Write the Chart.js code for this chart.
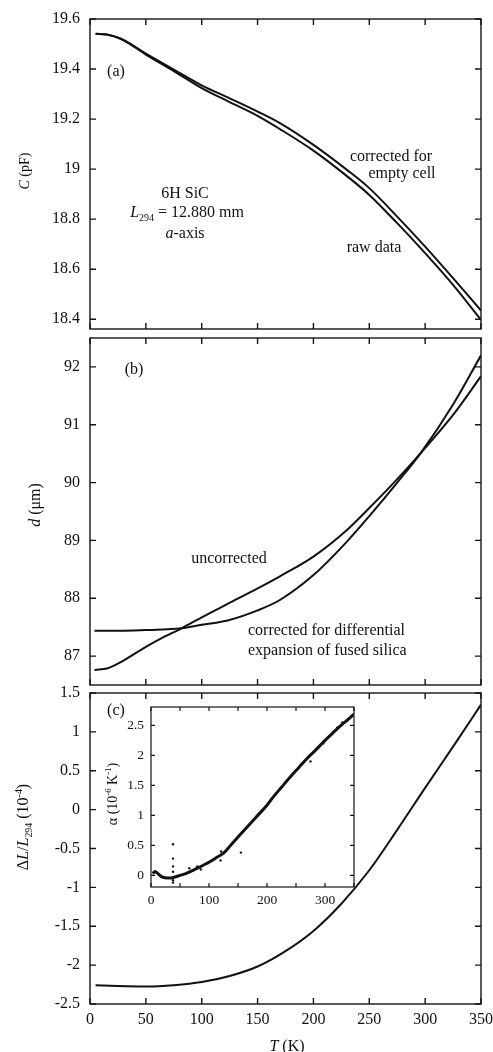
<!DOCTYPE html>
<html>
<head>
<meta charset="utf-8">
<script src="https://cdn.jsdelivr.net/npm/chart.js@4.4.0/dist/chart.umd.min.js"></script>
<style>
  body { margin: 0; background: #fff; }
  #wrap { position: relative; width: 493px; height: 1052px; overflow: hidden;
          font-family: "Liberation Serif", "Times New Roman", serif; color: #111; }
  canvas { position: absolute; }
  .t { position: absolute; white-space: nowrap; font-size: 16px; line-height: 1;
       transform: translate(-50%, -50%); }
  .l { position: absolute; white-space: nowrap; font-size: 16px; line-height: 1;
       transform: translate(0, -50%); }
  .rot { transform: translate(-50%, -50%) rotate(-90deg); }
  sub, sup { font-size: 0.62em; line-height: 0; }
</style>
</head>
<body>
<div id="wrap">
  <canvas id="pa" width="493" height="340" style="left:0;top:0"></canvas>
  <canvas id="pb" width="493" height="365" style="left:0;top:330px"></canvas>
  <canvas id="pc" width="493" height="372" style="left:0;top:680px"></canvas>
  <canvas id="inset" width="265" height="210" style="left:100px;top:700px"></canvas>

  <div class="t" style="left:116px;top:71px">(a)</div>
  <div class="t" style="left:185px;top:193px">6H SiC</div>
  <div class="t" style="left:187px;top:212px"><i>L</i><sub>294</sub> = 12.880 mm</div>
  <div class="t" style="left:185px;top:233px"><i>a</i>-axis</div>
  <div class="t" style="left:391px;top:156px">corrected for</div>
  <div class="t" style="left:402px;top:173px">empty cell</div>
  <div class="t" style="left:374px;top:247px">raw data</div>
  <div class="t rot" style="left:25px;top:171px;font-size:14px"><i>C</i> (pF)</div>

  <div class="t" style="left:134px;top:369px">(b)</div>
  <div class="t" style="left:229px;top:558px">uncorrected</div>
  <div class="l" style="left:248px;top:630px">corrected for differential</div>
  <div class="l" style="left:248px;top:650px">expansion of fused silica</div>
  <div class="t rot" style="left:35px;top:505px"><i>d</i> (μm)</div>

  <div class="t" style="left:116px;top:710px">(c)</div>
  <div class="t rot" style="left:23px;top:827px">Δ<i>L</i>/<i>L</i><sub>294</sub> (10<sup>-4</sup>)</div>
  <div class="t rot" style="left:113px;top:794px;font-size:14px">α (10<sup>-6</sup> K<sup>-1</sup>)</div>
  <div class="t" style="left:287px;top:1046px"><i>T</i> (K)</div>
</div>

<script>
// panel (a): capacitance
const tempA = [5, 15, 28, 50, 75, 100, 125, 150, 170, 200, 230, 250, 275, 300, 325, 350];
const capCorrected = [19.541, 19.538, 19.52, 19.462, 19.398, 19.335, 19.283, 19.23, 19.184, 19.097, 18.997, 18.924, 18.81, 18.69, 18.564, 18.435];
const capRaw = [19.541, 19.538, 19.52, 19.458, 19.392, 19.324, 19.268, 19.213, 19.16, 19.074, 18.972, 18.897, 18.784, 18.664, 18.537, 18.397];
const ticksA = [18.4, 18.6, 18.8, 19, 19.2, 19.4, 19.6];

// panel (b): gap
const tempB = [4, 16, 28, 50, 65, 82, 100, 124, 150, 170, 200, 230, 250, 275, 296, 325, 350];
const gapUncorrected = [86.76, 86.79, 86.9, 87.16, 87.32, 87.48, 87.67, 87.91, 88.17, 88.38, 88.72, 89.18, 89.56, 90.06, 90.51, 91.17, 91.84];
const gapCorrected = [87.44, 87.44, 87.44, 87.45, 87.46, 87.48, 87.54, 87.62, 87.79, 87.97, 88.40, 88.98, 89.42, 90.0, 90.51, 91.35, 92.2];
const ticksB = [87, 88, 89, 90, 91, 92];

// panel (c): relative length change
const tempC = [5, 25, 50, 75, 100, 125, 150, 175, 200, 225, 250, 275, 300, 325, 350];
const dL = [-2.258, -2.268, -2.274, -2.258, -2.218, -2.14, -2.018, -1.82, -1.56, -1.21, -0.78, -0.26, 0.28, 0.81, 1.35];
const ticksC = [-2.5, -2, -1.5, -1, -0.5, 0, 0.5, 1, 1.5];

// inset: expansion coefficient
const tempIn = [3, 7, 12, 18, 25, 32, 40, 50, 60, 70, 80, 90, 100, 115, 125, 137, 150, 165, 182, 200, 211, 225, 240, 255, 269, 285, 298, 312, 326, 340, 350];
const alpha = [0.03, 0.065, 0.03, -0.02, -0.04, -0.045, -0.03, 0.0, 0.03, 0.075, 0.12, 0.17, 0.22, 0.31, 0.37, 0.5, 0.64, 0.8, 0.98, 1.17, 1.31, 1.47, 1.64, 1.8, 1.95, 2.1, 2.23, 2.36, 2.49, 2.6, 2.69];
const strayT = [38, 38, 38, 38, 38, 38, 66, 80, 86, 120, 121, 155, 157, 275, 297, 300, 321, 330];
const strayAlpha = [0.52, 0.28, 0.15, 0.06, -0.08, -0.12, 0.12, 0.15, 0.1, 0.25, 0.4, 0.38, 0.72, 1.9, 2.2, 2.25, 2.46, 2.55];
const ticksIn = [0, 0.5, 1, 1.5, 2, 2.5];

const ticksT = [0, 50, 100, 150, 200, 250, 300, 350];

const serif = "'Liberation Serif', 'Times New Roman', serif";
const pts = (xs, ys) => xs.map((x, i) => ({x: x, y: ys[i]}));
const fmt = v => String(+v.toFixed(2));

// box round the plot with inward ticks on all four sides
const frameTicks = {
  id: "frameTicks",
  afterDatasetsDraw(chart, args, opts) {
    const {ctx, chartArea: a, scales: {x, y}} = chart;
    const len = opts.len;
    ctx.save();
    ctx.strokeStyle = opts.color;
    ctx.lineWidth = opts.width;
    ctx.strokeRect(a.left, a.top, a.right - a.left, a.bottom - a.top);
    ctx.beginPath();
    x.ticks.forEach(t => {
      const px = x.getPixelForValue(t.value);
      ctx.moveTo(px, a.top); ctx.lineTo(px, a.top + len);
      ctx.moveTo(px, a.bottom); ctx.lineTo(px, a.bottom - len);
    });
    y.ticks.forEach(t => {
      const py = y.getPixelForValue(t.value);
      ctx.moveTo(a.left, py); ctx.lineTo(a.left + len, py);
      ctx.moveTo(a.right, py); ctx.lineTo(a.right - len, py);
    });
    ctx.stroke();
    ctx.restore();
  }
};

function line(data, width) {
  return {
    data: data,
    borderColor: "#111",
    borderWidth: width,
    pointRadius: 0,
    cubicInterpolationMode: "monotone",
    fill: false,
  };
}

function makePanel(id, datasets, opt) {
  return new Chart(document.getElementById(id), {
    type: "line",
    data: {datasets: datasets},
    plugins: [frameTicks],
    options: {
      responsive: false,
      animation: false,
      devicePixelRatio: 1,
      layout: {padding: opt.padding},
      plugins: {
        legend: {display: false},
        tooltip: {enabled: false},
        frameTicks: {len: opt.tickLen, width: opt.frameWidth, color: "#151515"},
      },
      scales: {
        x: {
          type: "linear",
          min: 0,
          max: 350,
          grid: {display: false, drawTicks: false},
          border: {display: false},
          afterBuildTicks: s => { s.ticks = ticksT.map(v => ({value: v})); },
          afterFit: s => {
            s.height = opt.xHeight;
            s.paddingLeft = 0;
            s.paddingRight = 0;
          },
          ticks: {
            display: opt.xLabels,
            padding: opt.xPad,
            color: "#111",
            font: {family: serif, size: opt.fontSize},
            callback: opt.xCallback || (v => v),
            maxRotation: 0,
            autoSkip: false,
          },
        },
        y: {
          min: opt.yMin,
          max: opt.yMax,
          grid: {display: false, drawTicks: false},
          border: {display: false},
          afterBuildTicks: s => { s.ticks = opt.yTicks.map(v => ({value: v})); },
          afterFit: s => {
            s.width = opt.yWidth;
            s.paddingTop = 0;
            s.paddingBottom = 0;
          },
          ticks: {
            padding: opt.yPad,
            color: "#111",
            font: {family: serif, size: opt.fontSize},
            callback: fmt,
          },
        },
      },
    },
  });
}

makePanel("pa", [line(pts(tempA, capCorrected), 2), line(pts(tempA, capRaw), 2)], {
  padding: {top: 19, right: 12, bottom: 11, left: 0},
  yMin: 18.361, yMax: 19.6, yTicks: ticksA,
  xHeight: 0, xLabels: false, xPad: 0, yWidth: 90, yPad: 10,
  fontSize: 16, tickLen: 6, frameWidth: 1.4,
});

makePanel("pb", [line(pts(tempB, gapUncorrected), 2), line(pts(tempB, gapCorrected), 2)], {
  padding: {top: 8, right: 12, bottom: 10, left: 0},
  yMin: 86.5, yMax: 92.5, yTicks: ticksB,
  xHeight: 0, xLabels: false, xPad: 0, yWidth: 90, yPad: 10,
  fontSize: 16, tickLen: 6, frameWidth: 1.4,
});

makePanel("pc", [line(pts(tempC, dL), 2)], {
  padding: {top: 13, right: 12, bottom: 0, left: 0},
  yMin: -2.5, yMax: 1.5, yTicks: ticksC,
  xHeight: 48, xLabels: true, xPad: 6, yWidth: 90, yPad: 10,
  fontSize: 16, tickLen: 6, frameWidth: 1.4,
});

const insetSets = [
  line(pts(tempIn, alpha), 3),
  {
    type: "scatter",
    data: pts(strayT, strayAlpha),
    backgroundColor: "#111",
    borderWidth: 0,
    pointRadius: 1.2,
  },
];
makePanel("inset", insetSets, {
  padding: {top: 7, right: 11, bottom: 0, left: 0},
  yMin: -0.193, yMax: 2.807, yTicks: ticksIn,
  xHeight: 23, xLabels: true, xPad: 5, yWidth: 51, yPad: 7,
  fontSize: 13.5, tickLen: 4, frameWidth: 1.2,
  xCallback: v => (v % 100 === 0 ? v : ""),
});
</script>
</body>
</html>
